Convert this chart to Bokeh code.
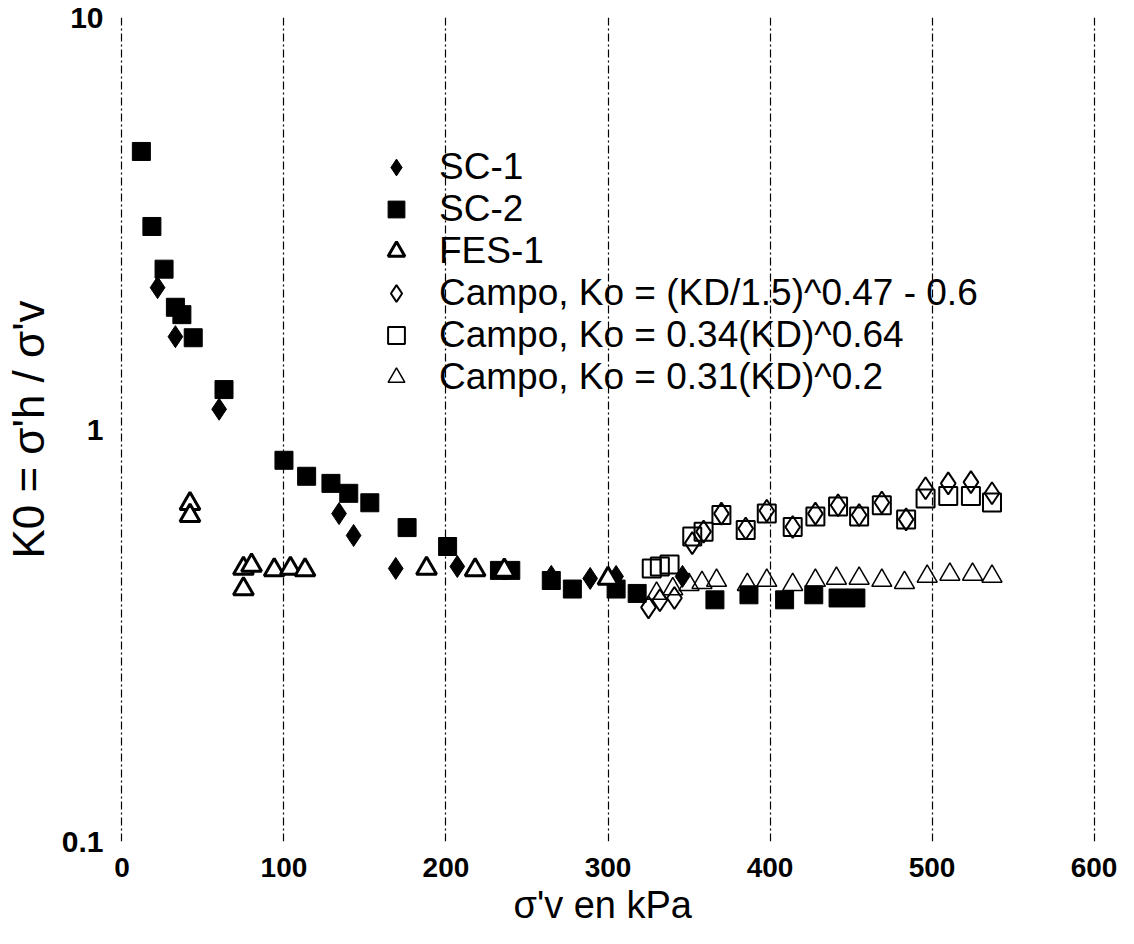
from bokeh.plotting import figure
from bokeh.embed import file_html
from bokeh.resources import INLINE
from bokeh.models import FixedTicker, CustomJSTickFormatter, Legend, LegendItem

# ---- data ----
sc1_x = [22, 33, 60, 134, 143, 169, 207, 265, 289, 305, 346]
sc1_y = [2.21, 1.68, 1.12, 0.625, 0.553, 0.46, 0.465, 0.44, 0.435, 0.44, 0.44]

sc2_x = [12, 18.5, 26, 33, 37, 44, 63, 100, 114, 129, 140, 153, 176, 201, 233, 240,
         265, 278, 305, 318, 366, 387, 409, 427, 442, 453]
sc2_y = [4.73, 3.11, 2.45, 1.98, 1.90, 1.67, 1.25, 0.842, 0.77, 0.74, 0.70, 0.664, 0.578,
         0.52, 0.455, 0.455, 0.43, 0.41, 0.41, 0.40, 0.386, 0.397, 0.386, 0.397, 0.39, 0.39]

fes_x = [42, 42, 75, 75, 80, 94, 104, 113, 188, 218, 236, 300]
fes_y = [0.66, 0.618, 0.41, 0.46, 0.468, 0.456, 0.46, 0.456, 0.46, 0.456, 0.455, 0.435]

cd_x = [325, 332, 341, 352, 359, 370, 385, 398, 414, 428, 442, 455, 469, 484, 496, 510, 524, 537]
cd_y = [0.37, 0.385, 0.39, 0.53, 0.565, 0.625, 0.575, 0.635, 0.58, 0.625, 0.655, 0.62,
        0.665, 0.605, 0.72, 0.74, 0.745, 0.70]

cs_x = [327, 332, 338, 352, 359, 370, 385, 398, 414, 428, 442, 455, 469, 484, 496, 510, 524, 537]
cs_y = [0.46, 0.465, 0.47, 0.55, 0.565, 0.62, 0.57, 0.625, 0.58, 0.615, 0.65, 0.615,
        0.655, 0.605, 0.68, 0.69, 0.69, 0.665]

ct_x = [330, 340, 350, 358, 367, 386, 398, 414, 428, 441, 455, 469, 483, 497, 511, 525, 537]
ct_y = [0.40, 0.41, 0.42, 0.425, 0.43, 0.42, 0.43, 0.42, 0.43, 0.435, 0.435, 0.43, 0.425,
        0.44, 0.445, 0.445, 0.44]

x_ticks = [0, 100, 200, 300, 400, 500, 600]
y_ticks = [0.1, 1, 10]

labels = ["SC-1", "SC-2", "FES-1",
          "Campo, Ko = (KD/1.5)^0.47 - 0.6",
          "Campo, Ko = 0.34(KD)^0.64",
          "Campo, Ko = 0.31(KD)^0.2"]

FONT = "Liberation Sans"

p = figure(width=1118, height=928, x_range=(-1.5, 601.5), y_range=(0.1, 10),
           y_axis_type="log", output_backend="svg", toolbar_location=None,
           min_border_left=112, min_border_right=22, min_border_top=17,
           min_border_bottom=81)
p.outline_line_color = None
p.background_fill_color = "white"

r1 = p.scatter(sc1_x, sc1_y, marker="diamond", size=22, fill_color="black", line_color="black")
r2 = p.scatter(sc2_x, sc2_y, marker="square", size=18, fill_color="black", line_color="black")
r3 = p.scatter(fes_x, fes_y, marker="triangle", size=20, fill_color="white",
               line_color="black", line_width=3)
r4 = p.scatter(cd_x, cd_y, marker="diamond", size=22, fill_color=None,
               line_color="black", line_width=2)
r5 = p.scatter(cs_x, cs_y, marker="square", size=18, fill_color=None,
               line_color="black", line_width=2)
r6 = p.scatter(ct_x, ct_y, marker="triangle", size=20, fill_color=None,
               line_color="black", line_width=1.5)

# axes
p.xaxis.ticker = FixedTicker(ticks=x_ticks)
p.yaxis.ticker = FixedTicker(ticks=y_ticks, minor_ticks=[])
p.yaxis.formatter = CustomJSTickFormatter(code="return String(tick);")
for ax in (p.xaxis[0], p.yaxis[0]):
    ax.axis_line_color = None
    ax.major_tick_line_color = None
    ax.minor_tick_line_color = None
    ax.major_label_text_font = FONT
    ax.major_label_text_font_style = "bold"
    ax.major_label_text_color = "black"
    ax.axis_label_text_font = FONT
    ax.axis_label_text_color = "black"

p.xaxis.major_label_text_font_size = "28px"
p.yaxis.major_label_text_font_size = "30px"
p.xaxis.axis_label = "σ'v  en kPa"
p.xaxis.axis_label_text_font_size = "38px"
p.xaxis.axis_label_text_font_style = "normal"
p.xaxis.axis_label_standoff = 4
p.xaxis.major_label_standoff = 10
p.yaxis.axis_label = "K0 = σ'h / σ'v"
p.yaxis.axis_label_text_font_size = "44px"
p.yaxis.axis_label_text_font_style = "normal"
p.yaxis.axis_label_standoff = 6
p.yaxis.major_label_standoff = 10

p.ygrid.grid_line_color = None
p.xgrid.grid_line_color = "black"
p.xgrid.grid_line_width = 1.2
p.xgrid.grid_line_dash = "8 3 2 3"

legend = Legend(items=[LegendItem(label=l, renderers=[r]) for l, r in
                       zip(labels, [r1, r2, r3, r4, r5, r6])],
                location=(256, 443))
legend.background_fill_alpha = 0
legend.border_line_color = None
legend.label_text_font = FONT
legend.label_text_font_size = "37px"
legend.label_text_color = "black"
legend.glyph_width = 42
legend.glyph_height = 42
legend.label_height = 30
legend.label_standoff = 22
legend.spacing = 0
legend.padding = 10
p.add_layout(legend)

open("out.html", "w").write(file_html(p, INLINE))
